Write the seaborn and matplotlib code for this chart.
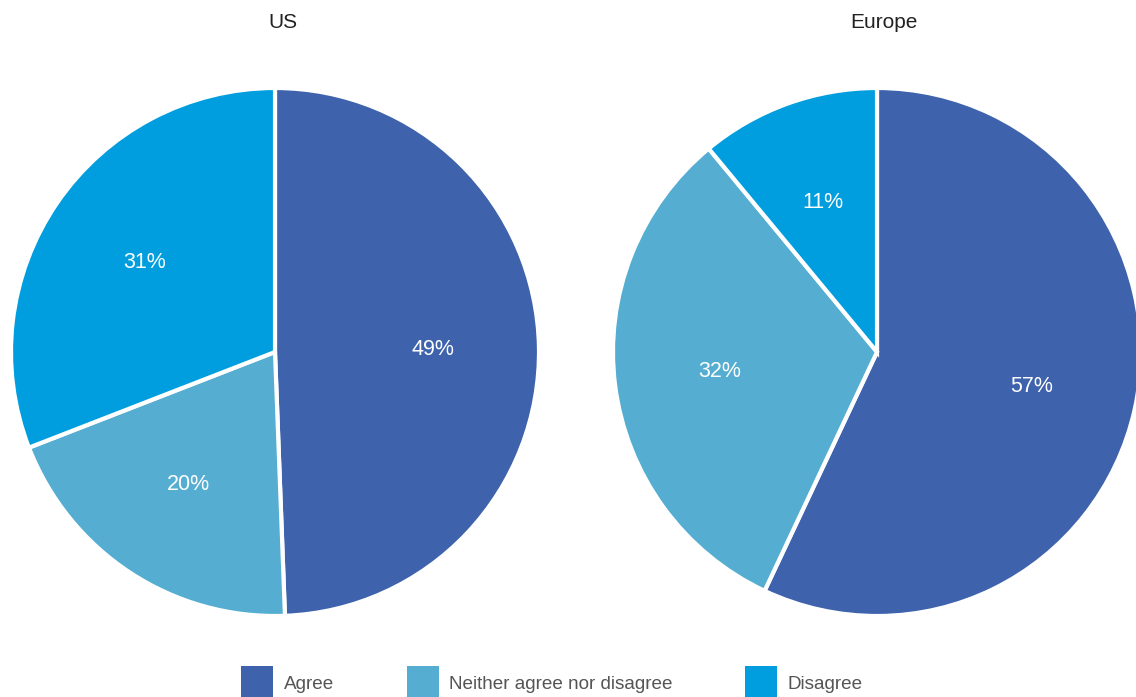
#Survey pie charts: US vs Europe

#Import modules
import matplotlib
matplotlib.use('Agg')
import matplotlib.pyplot as plt
from matplotlib.patches import Patch
import seaborn as sns

#Data (shares, labels rounded)
categories = ['Agree', 'Neither agree nor disagree', 'Disagree']
regions = ['US', 'Europe']
us_values = [49.4, 19.7, 30.9]
europe_values = [57, 32, 11]
colors = ['#3E63AC', '#55AED1', '#009EDE']

sns.set_theme(style='white')
plt.rcParams['font.family'] = ['Liberation Sans', 'DejaVu Sans']

fig = plt.figure(figsize=(11.36, 6.97), dpi=100)

#Pie axes placed by pixel centre / radius
W, H = 1136, 697
radius = 264
centres = [(275, 352), (877, 352)]
title_x = [283, 884]

for name, vals, (cx, cy), tx in zip(regions, [us_values, europe_values], centres, title_x):
    ax = fig.add_axes([(cx - radius) / W, 1 - (cy + radius) / H, 2 * radius / W, 2 * radius / H])
    wedges, texts, autotexts = ax.pie(vals, colors=colors, startangle=90, counterclock=False,
            autopct='%.0f%%', pctdistance=0.6,
            wedgeprops=dict(edgecolor='white', linewidth=3),
            textprops=dict(color='white', fontsize=15.5))
    for w in wedges:
        w.set_clip_on(False)
    ax.set_xlim(-1, 1)
    ax.set_ylim(-1, 1)
    ax.set_aspect('equal')
    ax.axis('off')
    fig.text(tx / W, 1 - 22 / H, name, ha='center', va='center', fontsize=15, color='#222222')

#Legend
handles = [Patch(facecolor=c, edgecolor='none', label=l) for c, l in zip(colors, categories)]
leg = fig.legend(handles=handles, loc='center', bbox_to_anchor=(552 / W, 1 - 683 / H), ncol=3,
        frameon=False, fontsize=13.6, handlelength=1.7, handleheight=2.4, handletextpad=0.55,
        columnspacing=3.85, borderpad=0)
for t in leg.get_texts():
    t.set_color('#555555')

plt.savefig('out.png', dpi=100)
